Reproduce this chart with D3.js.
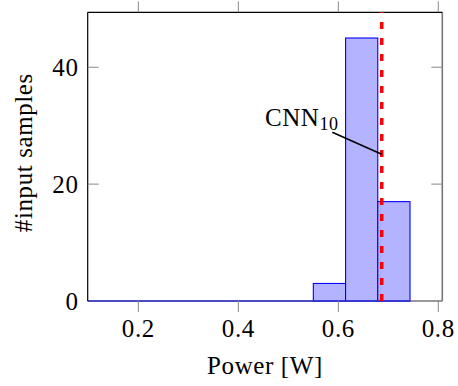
<!DOCTYPE html>
<html><head><meta charset="utf-8">
<script src="https://cdn.jsdelivr.net/npm/d3@7"></script>
<style>body{margin:0;background:#fff}svg{display:block}text{font-family:"Liberation Serif","Times New Roman",serif;fill:#000}</style>
</head><body><div id="chart"></div>
<script>
const binEdges = [0.0987, 0.1632, 0.2276, 0.2921, 0.3566, 0.4210, 0.4855, 0.5500, 0.6145, 0.6789, 0.7434];
const counts = [0, 0, 0, 0, 0, 0, 0, 3, 45, 17];
const xTicks = [0.2, 0.4, 0.6, 0.8];
const yTicks = [0, 20, 40];
const threshold = 0.6868;
const pinLabel = "CNN";
const pinSub = "10";
const pinY = 25.1;
const xLabel = "Power [W]";
const yLabel = "#input samples";

const W = 458, H = 386;
const L = 87.7, R = 442.3, T = 12.3, B = 301;
const fs = 25;
const ls = 0.6;

const svg = d3.select("#chart").append("svg").attr("width", W).attr("height", H);
const x = d3.scaleLinear().domain([0.0987, 0.808]).range([L, R]);
const y = d3.scaleLinear().domain([0, 49.4]).range([B, T]);

const bins = counts.map((c, i) => ({x0: binEdges[i], x1: binEdges[i + 1], c}));

// frame
svg.append("line").attr("x1", R).attr("x2", R).attr("y1", T).attr("y2", B).attr("stroke", "#777").attr("stroke-width", 1.6);
svg.append("line").attr("x1", L).attr("x2", R).attr("y1", B).attr("y2", B).attr("stroke", "#777").attr("stroke-width", 1.6);

// bars
svg.append("g").selectAll("rect").data(bins).join("rect")
  .attr("x", d => x(d.x0)).attr("width", d => x(d.x1) - x(d.x0))
  .attr("y", d => y(d.c)).attr("height", d => y(0) - y(d.c))
  .attr("fill", "#b3b3ff").attr("stroke", "#0000ff").attr("stroke-width", 1.1);

svg.append("line").attr("x1", L).attr("x2", x(binEdges[binEdges.length-1])).attr("y1", B).attr("y2", B)
  .attr("stroke", "#3333cc").attr("stroke-width", 1.6);

svg.append("line").attr("x1", L).attr("x2", L).attr("y1", T).attr("y2", B).attr("stroke", "#000").attr("stroke-width", 1.2);
svg.append("line").attr("x1", L).attr("x2", R).attr("y1", T).attr("y2", T).attr("stroke", "#000").attr("stroke-width", 1.2);

// threshold
svg.append("line").attr("x1", x(threshold)).attr("x2", x(threshold)).attr("y1", B).attr("y2", T)
  .attr("stroke", "#ff0000").attr("stroke-width", 3.6).attr("stroke-dasharray", "7,9");

// ticks
const tickC = "#888";
const tl = 11;
xTicks.forEach(v => {
  svg.append("line").attr("x1", x(v)).attr("x2", x(v)).attr("y1", B).attr("y2", B + tl).attr("stroke", tickC);
  svg.append("line").attr("x1", x(v)).attr("x2", x(v)).attr("y1", T).attr("y2", T - tl).attr("stroke", tickC);
  svg.append("text").attr("x", x(v)).attr("y", 336.5).attr("text-anchor", "middle").attr("font-size", fs).attr("letter-spacing", ls).text(v.toFixed(1));
});
yTicks.forEach(v => {
  if (v > 0) {
    svg.append("line").attr("x1", L).attr("x2", L + tl).attr("y1", y(v)).attr("y2", y(v)).attr("stroke", tickC);
    svg.append("line").attr("x1", R).attr("x2", R - tl).attr("y1", y(v)).attr("y2", y(v)).attr("stroke", tickC);
  }
  svg.append("text").attr("x", 78.5).attr("y", y(v) + 8.5).attr("text-anchor", "end").attr("font-size", fs).attr("letter-spacing", ls).text(v);
});

// labels
svg.append("text").attr("x", (L + R) / 2).attr("y", 374).attr("text-anchor", "middle").attr("font-size", fs).attr("letter-spacing", ls).text(xLabel);
svg.append("text").attr("transform", `translate(31.5,${(T + B) / 2 - 4}) rotate(-90)`).attr("text-anchor", "middle").attr("font-size", fs).attr("letter-spacing", ls).text(yLabel);

// pin
const px = x(threshold), py = y(pinY);
svg.append("line").attr("x1", px).attr("x2", px - 49.4).attr("y1", py).attr("y2", py - 22)
  .attr("stroke", "#000").attr("stroke-width", 1.6);
const pt = svg.append("text").attr("x", px - 43).attr("y", py - 28).attr("text-anchor", "end").attr("font-size", fs).attr("letter-spacing", ls);
pt.append("tspan").text(pinLabel);
pt.append("tspan").attr("dy", 4).attr("font-size", fs * 0.72).text(pinSub);
</script></body></html>
